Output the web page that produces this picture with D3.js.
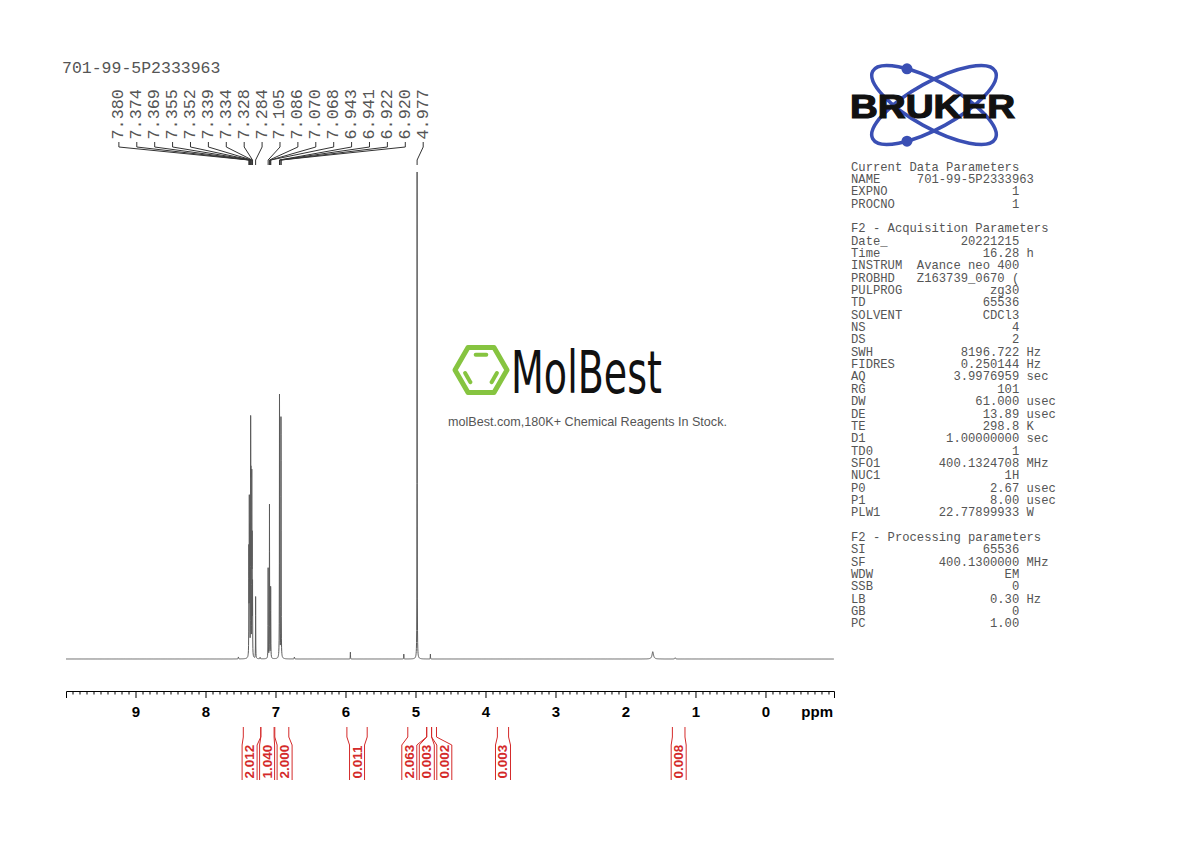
<!DOCTYPE html>
<html><head><meta charset="utf-8">
<script src="https://cdn.jsdelivr.net/npm/d3@7"></script>
<style>
body{margin:0;background:#fff;}
svg{display:block;}
.mono{font-family:"Liberation Mono","Courier New",monospace;white-space:pre;}
</style>
</head><body>
<svg id="c" width="1190" height="842"></svg>
<script>
// ---------------- DATA ----------------
const sampleName = "701-99-5P2333963";

// labelled peaks (ppm) and their heights (relative, 4.977 = 100)
const peakPPM     = [7.380,7.374,7.369,7.355,7.352,7.339,7.334,7.328,7.284,7.105,7.086,7.070,7.068,6.943,6.941,6.922,6.920,4.977];
const peakHeight  = [21,   30,   24,   43,   30,   36,   22,   14,   12.7, 18.5, 31.5, 11,   10,   44,   28,   40,   26,   100];

// small unlabelled signals (ppm, height, half-width in ppm)
const minorPPM    = [7.53, 7.22, 6.73, 5.93, 5.167, 4.787, 1.61, 1.29];
const minorHeight = [0.4,  0.3,  0.4,  1.4,  1.0,   1.0,   1.5,  0.25];
const minorWidth  = [0.003,0.003,0.003,0.0015,0.0015,0.0015,0.012,0.006];

// integrals
const intStart = [7.46, 7.21, 7.01, 5.98, 5.11, 4.84, 4.77, 3.83, 1.33];
const intEnd   = [7.21, 7.02, 6.81, 5.69, 4.84, 4.77, 4.70, 3.67, 1.15];
const intValue = ["2.012","1.040","2.000","0.011","2.063","0.003","0.002","0.003","0.008"];

// axis
const majorTicks = [9,8,7,6,5,4,3,2,1,0];
const axisUnit = "ppm";

// parameter block
const paramLines = [
  ["Current Data Parameters"],
  ["NAME","701-99-5P2333963",""],
  ["EXPNO","1",""],
  ["PROCNO","1",""],
  [""],
  ["F2 - Acquisition Parameters"],
  ["Date_","20221215",""],
  ["Time","16.28","h"],
  ["INSTRUM","Avance neo 400",""],
  ["PROBHD","Z163739_0670 (",""],
  ["PULPROG","zg30",""],
  ["TD","65536",""],
  ["SOLVENT","CDCl3",""],
  ["NS","4",""],
  ["DS","2",""],
  ["SWH","8196.722","Hz"],
  ["FIDRES","0.250144","Hz"],
  ["AQ","3.9976959","sec"],
  ["RG","101",""],
  ["DW","61.000","usec"],
  ["DE","13.89","usec"],
  ["TE","298.8","K"],
  ["D1","1.00000000","sec"],
  ["TD0","1",""],
  ["SFO1","400.1324708","MHz"],
  ["NUC1","1H",""],
  ["P0","2.67","usec"],
  ["P1","8.00","usec"],
  ["PLW1","22.77899933","W"],
  [""],
  ["F2 - Processing parameters"],
  ["SI","65536",""],
  ["SF","400.1300000","MHz"],
  ["WDW","EM",""],
  ["SSB","0",""],
  ["LB","0.30","Hz"],
  ["GB","0",""],
  ["PC","1.00",""]
];

// ---------------- DRAW ----------------
const svg = d3.select("#c");
const RED = "#d42a2a";

const x = d3.scaleLinear().domain([9.993, -0.979]).range([66, 834]);
const y = d3.scaleLinear().domain([0, 100]).range([659, 172]);

// build spectrum
const lines = peakPPM.map((p,i)=>({c:p,h:peakHeight[i],w:0.0015}))
  .concat(minorPPM.map((p,i)=>({c:p,h:minorHeight[i],w:minorWidth[i]})));
const grid = d3.range(9.993, -0.979, -0.002).concat(peakPPM).concat(minorPPM).sort((a,b)=>b-a);
const spec = grid.map(p=>{
  let s=0; for(const L of lines){const d=p-L.c; s+=L.h*L.w*L.w/(d*d+L.w*L.w);} return [p,s];
});
svg.append("path").datum(spec)
  .attr("d", d3.line().x(d=>x(d[0])).y(d=>y(d[1])))
  .attr("fill","none").attr("stroke","#5a5a5a").attr("stroke-width",1);

// axes
const axG = svg.append("g").attr("transform","translate(0,691)");
axG.call(d3.axisBottom(x).tickValues(majorTicks).tickFormat(d3.format("d")).tickSize(7).tickSizeOuter(7).tickPadding(8));
axG.selectAll("text").attr("font-family","'Liberation Sans',Arial,sans-serif").attr("font-size",15).attr("font-weight","bold").attr("fill","#000");
const minor = d3.range(99,-10,-1).map(v=>v/10).filter(v=>!majorTicks.includes(v));
const mnG = svg.append("g").attr("transform","translate(0,691)");
mnG.call(d3.axisBottom(x).tickValues(minor).tickSize(3.5).tickFormat(""));
mnG.select(".domain").remove();
svg.append("text").attr("x",833).attr("y",717).attr("text-anchor","end")
  .attr("font-family","'Liberation Sans',Arial,sans-serif").attr("font-size",15).attr("font-weight","bold").text(axisUnit);

// label spreading
function spread(targets, gap){
  let cl = targets.map((t,i)=>({s:t,n:1,first:i}));
  let changed=true;
  while(changed){
    changed=false;
    for(let i=0;i<cl.length-1;i++){
      const a=cl[i], b=cl[i+1];
      const aEnd=a.s/a.n+(a.n-1)*gap/2, bStart=b.s/b.n-(b.n-1)*gap/2;
      if(bStart-aEnd<gap){cl.splice(i,2,{s:a.s+b.s,n:a.n+b.n,first:a.first});changed=true;break;}
    }
  }
  const out=[];
  cl.forEach(c=>{const st=c.s/c.n-(c.n-1)*gap/2; for(let k=0;k<c.n;k++) out.push(st+k*gap);});
  return out;
}

// peak labels
const px = peakPPM.map(p=>x(p));
const lx = spread(px, 17.9);
const pl = svg.append("g");
peakPPM.forEach((p,i)=>{
  pl.append("text").attr("class","mono")
    .attr("transform",`translate(${lx[i]},139.5) rotate(-90)`)
    .attr("dominant-baseline","central")
    .attr("font-size",16.8).attr("fill","#555").text(p.toFixed(3));
  pl.append("path").attr("d",`M${lx[i]},142V147L${px[i]},160V165`)
    .attr("fill","none").attr("stroke","#333").attr("stroke-width",1);
});

// sample name
svg.append("text").attr("class","mono").attr("x",62).attr("y",73)
  .attr("font-size",16.5).attr("fill","#555").text(sampleName);

// integrals
const ic = intStart.map((s,i)=>x((s+intEnd[i])/2));
const il = spread(ic, 17.5);
const ig = svg.append("g");
intValue.forEach((v,i)=>{
  const xs=x(intStart[i]), xe=x(intEnd[i]), c=il[i], hw=7.5;
  ig.append("path").attr("d",`M${xs},727V737L${c-hw},745V780`).attr("fill","none").attr("stroke",RED).attr("stroke-width",1);
  ig.append("path").attr("d",`M${xe},727V737L${c+hw},745V780`).attr("fill","none").attr("stroke",RED).attr("stroke-width",1);
  ig.append("text").attr("transform",`translate(${c},778.5) rotate(-90)`)
    .attr("dominant-baseline","central")
    .attr("font-family","'Liberation Sans',Arial,sans-serif").attr("font-size",13.5).attr("font-weight","bold")
    .attr("fill",RED).text(v);
});

// parameter block
const pg = svg.append("g");
paramLines.forEach((r,i)=>{
  let s;
  if(r.length===1) s=r[0];
  else s = r[0].padEnd(9," ") + r[1].padStart(14," ") + (r[2] ? " "+r[2] : "");
  pg.append("text").attr("class","mono").attr("x",851).attr("y",170.5+i*12.35)
    .attr("font-size",12.2).attr("fill","#555").text(s);
});

// Bruker logo
const lg = svg.append("g");
const BLUE="#3a4fb4";
const ER={rx:70, ry:23, cx:934, cy:105, a:29};
[ER.a,-ER.a].forEach(a=>{
  lg.append("ellipse").attr("cx",0).attr("cy",0).attr("rx",ER.rx).attr("ry",ER.ry)
    .attr("transform",`translate(${ER.cx},${ER.cy}) rotate(${a})`)
    .attr("fill","none").attr("stroke",BLUE).attr("stroke-width",3.5);
});
function onEllipse(t, ang){
  const th=ang*Math.PI/180, lx=ER.rx*Math.cos(t), ly=ER.ry*Math.sin(t);
  return [ER.cx+lx*Math.cos(th)-ly*Math.sin(th), ER.cy+lx*Math.sin(th)+ly*Math.cos(th)];
}
[onEllipse(-2.2, ER.a), onEllipse(2.2, -ER.a)].forEach(p=>{
  lg.append("circle").attr("cx",p[0]).attr("cy",p[1]).attr("r",5.5).attr("fill",BLUE);
});
lg.append("text").attr("x",850).attr("y",118).attr("textLength",165).attr("lengthAdjust","spacingAndGlyphs")
  .attr("font-family","'Liberation Sans',Arial,sans-serif").attr("font-weight",900).attr("font-size",33)
  .attr("fill","#111").attr("stroke","#111").attr("stroke-width",1.2).text("BRUKER");

// MolBest watermark
const mg = svg.append("g");
const R=26, hc=[481,370];
const hex = d3.range(6).map(k=>[hc[0]+R*Math.cos(k*Math.PI/3), hc[1]+R*Math.sin(k*Math.PI/3)]);
mg.append("path").attr("d","M"+hex.map(p=>p.join(",")).join("L")+"Z")
  .attr("fill","none").attr("stroke","#86c440").attr("stroke-width",5).attr("stroke-linejoin","round");
[[4,5],[0,1],[2,3]].forEach(([a,b])=>{
  const ri=0.68;
  const p1=[hc[0]+(hex[a][0]-hc[0])*ri, hc[1]+(hex[a][1]-hc[1])*ri];
  const p2=[hc[0]+(hex[b][0]-hc[0])*ri, hc[1]+(hex[b][1]-hc[1])*ri];
  const m=[(p1[0]+p2[0])/2,(p1[1]+p2[1])/2];
  const s=0.6;
  mg.append("line").attr("x1",m[0]+(p1[0]-m[0])*s).attr("y1",m[1]+(p1[1]-m[1])*s)
    .attr("x2",m[0]+(p2[0]-m[0])*s).attr("y2",m[1]+(p2[1]-m[1])*s)
    .attr("stroke","#86c440").attr("stroke-width",4).attr("stroke-linecap","round");
});
mg.append("text").attr("x",511).attr("y",393).attr("textLength",151).attr("lengthAdjust","spacingAndGlyphs")
  .attr("font-family","'DejaVu Sans',sans-serif").attr("font-size",58).attr("fill","#111").text("MolBest");
mg.append("text").attr("x",448).attr("y",426)
  .attr("font-family","'Liberation Sans',Arial,sans-serif").attr("font-size",12.6).attr("fill","#555")
  .text("molBest.com,180K+ Chemical Reagents In Stock.");
</script>
</body></html>
